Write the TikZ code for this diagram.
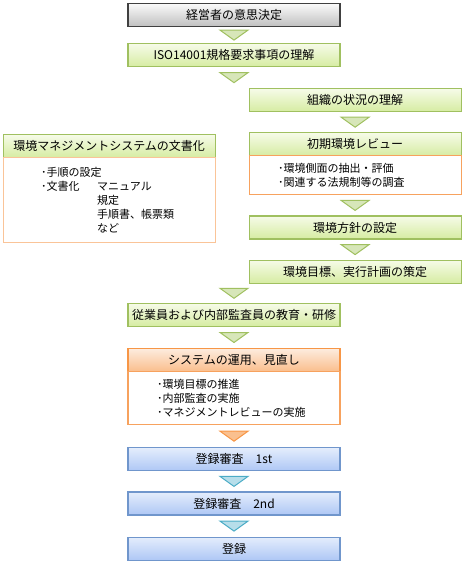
\documentclass[tikz,border=0pt]{standalone}
\usepackage{fontspec}
\setmainfont{Noto Sans CJK JP}
\usetikzlibrary{calc,positioning}
\definecolor{greyborder}{RGB}{64,64,64}
\definecolor{greytop}{RGB}{250,250,250}
\definecolor{greybot}{RGB}{192,192,192}
\definecolor{greenborder}{RGB}{160,192,96}
\definecolor{greentop}{RGB}{246,251,232}
\definecolor{greenbot}{RGB}{214,236,162}
\definecolor{orangeborder}{RGB}{247,150,70}
\definecolor{orangetop}{RGB}{253,236,222}
\definecolor{orangebot}{RGB}{250,190,140}
\definecolor{bodyorange}{RGB}{247,162,94}
\definecolor{docorange}{RGB}{250,196,152}
\definecolor{blueborder}{RGB}{112,150,204}
\definecolor{bluetop}{RGB}{228,237,252}
\definecolor{bluebot}{RGB}{174,199,245}
\definecolor{trigreen}{RGB}{215,230,185}
\definecolor{triorange}{RGB}{250,192,143}
\definecolor{tricyan}{RGB}{183,222,234}
\definecolor{cyanborder}{RGB}{75,172,198}
\tikzset{
  basebox/.style={line width=1.2pt,minimum width=212pt,minimum height=23pt,
    inner sep=0pt,font=\fontsize{12}{14}\selectfont},
  greybox/.style={basebox,draw=greyborder,top color=greytop,bottom color=greybot},
  greenbox/.style={basebox,draw=greenborder,top color=greentop,bottom color=greenbot},
  orangebox/.style={basebox,draw=orangeborder,top color=orangetop,bottom color=orangebot},
  bluebox/.style={basebox,draw=blueborder,top color=bluetop,bottom color=bluebot},
  bodybox/.style={draw=bodyorange,fill=white,line width=1.2pt,minimum width=212pt,
    text width=154pt,inner xsep=29pt,inner ysep=0pt,align=left,
    font=\fontsize{11}{14}\selectfont},
  docbody/.style={bodybox,draw=docorange,text width=136pt,inner xsep=38pt},
  greentri/.style={draw=greenborder,fill=trigreen,line width=1pt},
  orangetri/.style={draw=orangeborder,fill=triorange,line width=1pt},
  cyantri/.style={draw=cyanborder,fill=tricyan,line width=1pt},
  downtri/.pic={\path[pic actions] (-14,5) -- (14,5) -- (0,-5) -- cycle;}
}
\begin{document}
\begin{tikzpicture}[x=1pt,y=1pt]
  \useasboundingbox (0,0) rectangle (468,-568);
  % main column
  \node[greybox] (dec) at (234,-15) {経営者の意思決定};
  \node[greenbox,below=16pt of dec] (iso) {ISO14001規格要求事項の理解};
  % right column
  \node[greenbox,anchor=north west] (org) at (248.5,-88) {組織の状況の理解};
  \node[greenbox,below=20pt of org] (rev) {初期環境レビュー};
  \node[bodybox,minimum height=39pt,below=-1.2pt of rev] (revbody)
    {･環境側面の抽出・評価\\･関連する法規制等の調査};
  \node[greenbox,below=20pt of revbody] (pol) {環境方針の設定};
  \node[greenbox,below=20pt of pol] (obj) {環境目標、実行計画の策定};
  % left column
  \node[greenbox,anchor=north west] (doc) at (2.5,-134) {環境マネジメントシステムの文書化};
  \node[docbody,minimum height=85pt,below=-1.2pt of doc] (docbody)
    {･手順の設定\\\makebox[56pt][l]{･文書化}マニュアル\\\hspace*{56pt}規定\\
     \hspace*{56pt}手順書、帳票類\\\hspace*{56pt}など};
  % back to main column
  \coordinate (edutop) at (iso.south |- obj.south);
  \node[greenbox,below=19pt of edutop] (edu) {従業員および内部監査員の教育・研修};
  \node[orangebox,below=21pt of edu] (sys) {システムの運用、見直し};
  \node[bodybox,minimum height=53pt,below=-1.2pt of sys] (sysbody)
    {･環境目標の推進\\･内部監査の実施\\･マネジメントレビューの実施};
  \node[bluebox,below=22pt of sysbody] (reg1) {登録審査　1st};
  \node[bluebox,below=20pt of reg1] (reg2) {登録審査　2nd};
  \node[bluebox,below=21pt of reg2] (reg3) {登録};
  % triangles
  \coordinate (t1) at ($(dec.south)!0.5!(iso.north)$);
  \coordinate (t2) at ($(iso.south)!0.5!(iso.south |- org.north)$);
  \coordinate (t3) at ($(org.south)!0.5!(rev.north)$);
  \coordinate (t4) at ($(revbody.south)!0.5!(pol.north)$);
  \coordinate (t5) at ($(pol.south)!0.5!(obj.north)$);
  \coordinate (t6) at ($(edutop)!0.5!(edu.north)$);
  \coordinate (t7) at ($(edu.south)!0.5!(sys.north)$);
  \coordinate (t8) at ($(sysbody.south)!0.5!(reg1.north)$);
  \coordinate (t9) at ($(reg1.south)!0.5!(reg2.north)$);
  \coordinate (t10) at ($(reg2.south)!0.5!(reg3.north)$);
  \foreach \t in {t1,t2,t3,t4,t5,t6,t7}
    \pic[greentri] at (\t) {downtri};
  \pic[orangetri] at (t8) {downtri};
  \foreach \t in {t9,t10}
    \pic[cyantri] at (\t) {downtri};
\end{tikzpicture}
\end{document}
